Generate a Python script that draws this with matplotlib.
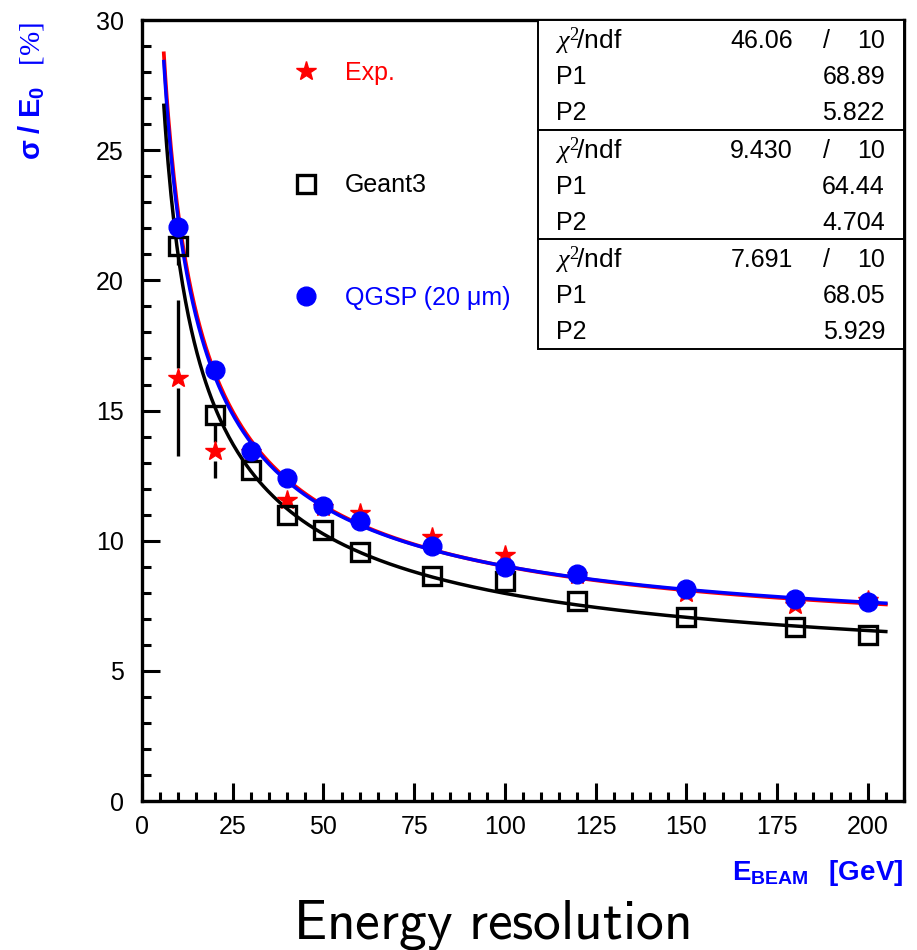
import numpy as np
import matplotlib
matplotlib.use("Agg")
import matplotlib.pyplot as plt
from matplotlib.patches import Rectangle
from matplotlib.ticker import MultipleLocator

plt.rcParams['font.family'] = ['Liberation Sans', 'DejaVu Sans']
plt.rcParams['mathtext.fontset'] = 'custom'
plt.rcParams['mathtext.rm'] = 'Liberation Serif'
plt.rcParams['mathtext.it'] = 'Liberation Serif:italic'
plt.rcParams['mathtext.bf'] = 'Liberation Sans:bold'

# beam energies [GeV]
energy = [10, 20, 30, 40, 50, 60, 80, 100, 120, 150, 180, 200]

# sigma/E0 [%]
exp_res = [16.26, 13.43, 13.40, 11.55, 11.30, 11.05, 10.16, 9.45, 8.70, 8.00, 7.52, 7.72]
exp_err = [3.00, 1.02, 0.30, 0.25, 0.25, 0.25, 0.20, 0.20, 0.20, 0.20, 0.20, 0.20]
g3_res = [21.33, 14.84, 12.70, 10.97, 10.40, 9.55, 8.63, 8.44, 7.68, 7.07, 6.69, 6.38]
g3_err = [0.75, 0.30, 0.25, 0.20, 0.20, 0.20, 0.15, 0.15, 0.15, 0.15, 0.15, 0.15]
qgsp_res = [22.06, 16.57, 13.43, 12.39, 11.32, 10.74, 9.78, 9.00, 8.71, 8.13, 7.75, 7.66]
qgsp_err = [0.30, 0.25, 0.20, 0.20, 0.20, 0.20, 0.15, 0.15, 0.15, 0.15, 0.15, 0.15]

# fit results: sigma/E = sqrt(P1^2/E + P2^2)
fit_names = ['Exp.', 'Geant3', 'QGSP (20 \u03bcm)']
fit_chi2 = ['46.06', '9.430', '7.691']
fit_ndf = ['10', '10', '10']
fit_p1 = [68.89, 64.44, 68.05]
fit_p2 = [5.822, 4.704, 5.929]
fit_p1_txt = ['68.89', '64.44', '68.05']
fit_p2_txt = ['5.822', '4.704', '5.929']
colors = ['red', 'black', 'blue']

fig = plt.figure(figsize=(9.17, 9.5), dpi=100)
ax = fig.add_axes([0.1549, 0.1568, 0.8309, 0.8221])
ax.set_xlim(0, 210)
ax.set_ylim(0, 30)


def reso(e, p1, p2):
    return np.sqrt(p1 ** 2 / e + p2 ** 2)


# fit curves
ee = np.linspace(6, 205, 500)
ax.plot(ee, reso(ee, fit_p1[0], fit_p2[0]), color='red', lw=2.7, zorder=2)
ax.plot(ee, reso(ee, fit_p1[2], fit_p2[2]), color='blue', lw=2.5, zorder=2.1)
ax.plot(ee, reso(ee, fit_p1[1], fit_p2[1]), color='black', lw=2.5, zorder=2.2)


# error bars drawn ROOT-like with a gap around the marker
def err_bars(x, y, err, gap=0.38):
    for xi, yi, ei in zip(x, y, err):
        if ei > gap:
            ax.vlines([xi, xi], [yi + gap, yi - ei], [yi + ei, yi - gap],
                      color='black', lw=2.4, zorder=3)


err_bars(energy, exp_res, exp_err)
err_bars(energy, g3_res, g3_err)
err_bars(energy, qgsp_res, qgsp_err)

h1, = ax.plot(energy, exp_res, ls='none', marker='*', ms=14.5, color='red', zorder=4)
h2, = ax.plot(energy, g3_res, ls='none', marker='s', ms=12.5, mfc='none', mec='black',
              mew=2.4, zorder=5)
h3, = ax.plot(energy, qgsp_res, ls='none', marker='o', ms=13.5, color='blue', zorder=6)

leg = ax.legend([h1, h2, h3], fit_names, loc='upper left', bbox_to_anchor=(0.199, 0.948),
                frameon=False, fontsize=18, borderpad=0, handlelength=1.0,
                handletextpad=1.05, labelspacing=3.55, borderaxespad=0)
for t, c in zip(leg.get_texts(), colors):
    t.set_color(c)

# axes style
for s in ax.spines.values():
    s.set_linewidth(2.4)
ax.xaxis.set_major_locator(MultipleLocator(25))
ax.xaxis.set_minor_locator(MultipleLocator(5))
ax.yaxis.set_major_locator(MultipleLocator(5))
ax.yaxis.set_minor_locator(MultipleLocator(1))
ax.tick_params(which='both', direction='in', top=False, right=False, width=2.2, labelsize=18)
ax.tick_params(which='major', length=13)
ax.tick_params(which='minor', length=6.5)
ax.tick_params(axis='y', pad=13)
ax.tick_params(axis='x', pad=10)


# stat boxes
def ax_xy(xpx, ypx):
    return (xpx - 142) / 762, (801 - ypx) / 781


box_tops = [20, 130, 239]
box_h = 110
for i, top in enumerate(box_tops):
    x0, y1 = ax_xy(538, top)
    _, y0 = ax_xy(538, top + box_h)
    ax.add_patch(Rectangle((x0, y0), 1.0 - x0, y1 - y0, transform=ax.transAxes,
                           facecolor='white', edgecolor='black', lw=1.4, zorder=8,
                           clip_on=False))
    rows = [top + 21, top + 57, top + 93]
    kw = dict(transform=ax.transAxes, fontsize=18, va='center', zorder=9)
    ax.text(*ax_xy(555, rows[0]), r'$\chi^2\!$/ndf', ha='left', fontsize=19,
            transform=ax.transAxes, va='center', zorder=9)
    ax.text(*ax_xy(793, rows[0]), fit_chi2[i], ha='right', **kw)
    ax.text(*ax_xy(827, rows[0]), '/', ha='center', **kw)
    ax.text(*ax_xy(885, rows[0]), fit_ndf[i], ha='right', **kw)
    ax.text(*ax_xy(556, rows[1]), 'P1', ha='left', **kw)
    ax.text(*ax_xy(885, rows[1]), fit_p1_txt[i], ha='right', **kw)
    ax.text(*ax_xy(556, rows[2]), 'P2', ha='left', **kw)
    ax.text(*ax_xy(885, rows[2]), fit_p2_txt[i], ha='right', **kw)

# axis titles
fig.text(0.035, 0.977, r'$\mathbf{\sigma\ /\ E_0}\ \ \ \mathrm{[\%]}$', rotation=90,
         ha='center', va='top', color='blue', fontsize=21)
fig.text(0.985, 0.0737, r'$\mathbf{E_{BEAM}}\ \ \ \mathbf{[GeV]}$', ha='right',
         va='baseline', color='blue', fontsize=20)
fig.text(0.5355, 0.0126, r'$\mathsf{Energy\ resolution}$', fontsize=40,
         math_fontfamily='cm', ha='center', va='baseline')

fig.savefig('out.png', dpi=100)
